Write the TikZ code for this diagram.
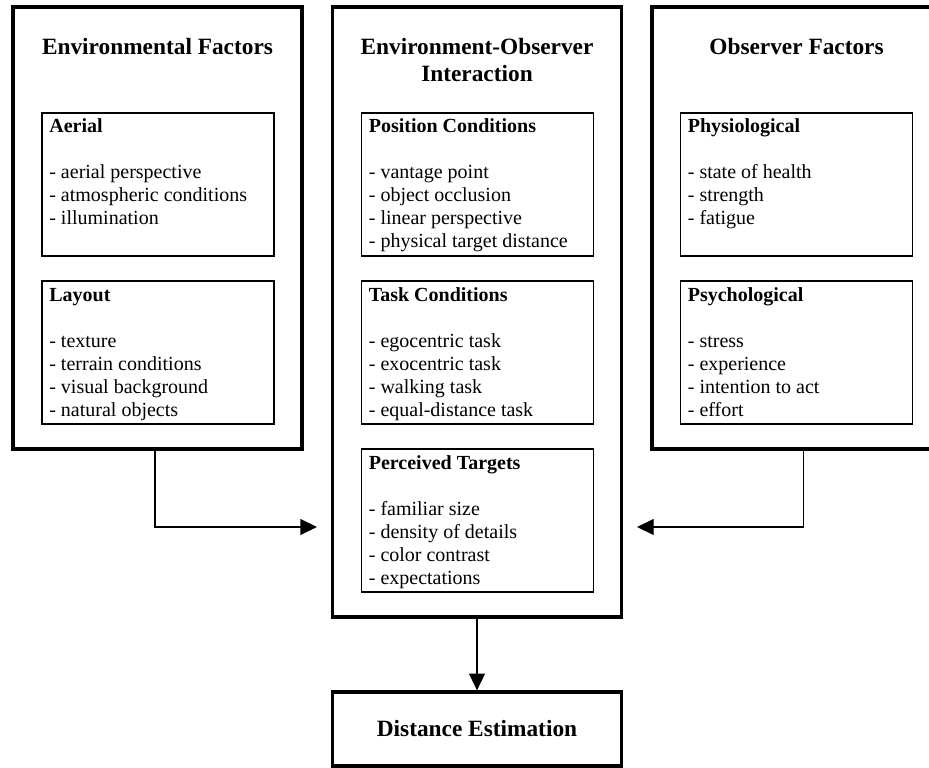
\documentclass[tikz,border=0pt]{standalone}
\usepackage{fontspec}
\setmainfont{Liberation Serif}
\usepackage{tikz}
\usetikzlibrary{
    positioning,
    arrows.meta
}

\begin{document}
\begin{tikzpicture}[x=0.6pt, y=-0.6pt, >={Triangle[length=10pt, width=9.5pt]},
        outerbox/.style={draw, line width=2pt, minimum width=173.4pt, inner sep=0pt},
        innerbox/.style={draw, line width=0.9pt, minimum width=139.2pt, minimum height=85.8pt, inner sep=0pt, outer sep=0pt},
        titletext/.style={font=\fontsize{14pt}{16.1pt}\selectfont\bfseries, align=center, inner sep=0pt, anchor=base},
        itemtext/.style={font=\fontsize{12pt}{13.8pt}\selectfont, align=left, inner sep=0pt, anchor=base west},
        link/.style={->, line width=0.8pt}]
        \clip (0,0) rectangle (929,768);

        % 外枠
        \node[outerbox, minimum height=265.2pt] (envf) at (157.5,228) {};
        \node[outerbox, minimum height=366pt] (inter) at (477,312) {};
        \node[outerbox, minimum height=265.2pt] (obsf) at (796.5,228) {};
        \node[outerbox, minimum height=44.4pt, font=\fontsize{14pt}{16.1pt}\selectfont\bfseries] (dist) at (477,729) {Distance Estimation};

        % 見出し (base = 最後の行)
        \node[titletext] (envt) at ([yshift=-29.4pt]envf.north) {Environmental Factors};
        \node[titletext] (intert) at ([yshift=-45.6pt]inter.north) {Environment-Observer\\Interaction};
        \node[titletext] (obst) at ([yshift=-29.4pt]obsf.north) {Observer Factors};

        % 内側の枠
        \node[innerbox] (aerial) at (158,184.5) {};
        \node[innerbox, below=15pt of aerial] (layout) {};
        \node[innerbox] (posc) at (477.5,184.5) {};
        \node[innerbox, below=15pt of posc] (taskc) {};
        \node[innerbox, below=15pt of taskc] (perc) {};
        \node[innerbox] (physio) at (796.5,184.5) {};
        \node[innerbox, below=15pt of physio] (psycho) {};

        % 項目 (3項目: -67.2pt, 4項目: -81pt)
        \node[itemtext] (aerialt) at ([xshift=4.2pt, yshift=-67.2pt]aerial.north west)
            {\textbf{Aerial}\\[13.8pt]- aerial perspective\\ - atmospheric conditions\\ - illumination};
        \node[itemtext] (layoutt) at ([xshift=4.2pt, yshift=-81pt]layout.north west)
            {\textbf{Layout}\\[13.8pt]- texture\\ - terrain conditions\\ - visual background\\ - natural objects};
        \node[itemtext] (posct) at ([xshift=4.2pt, yshift=-81pt]posc.north west)
            {\textbf{Position Conditions}\\[13.8pt]- vantage point\\ - object occlusion\\ - linear perspective\\ - physical target distance};
        \node[itemtext] (taskct) at ([xshift=4.2pt, yshift=-81pt]taskc.north west)
            {\textbf{Task Conditions}\\[13.8pt]- egocentric task\\ - exocentric task\\ - walking task\\ - equal-distance task};
        \node[itemtext] (perct) at ([xshift=4.2pt, yshift=-81pt]perc.north west)
            {\textbf{Perceived Targets}\\[13.8pt]- familiar size\\ - density of details\\ - color contrast\\ - expectations};
        \node[itemtext] (physiot) at ([xshift=4.2pt, yshift=-67.2pt]physio.north west)
            {\textbf{Physiological}\\[13.8pt]- state of health\\ - strength\\ - fatigue};
        \node[itemtext] (psychot) at ([xshift=4.2pt, yshift=-81pt]psycho.north west)
            {\textbf{Psychological}\\[13.8pt]- stress\\ - experience\\ - intention to act\\ - effort};

        % 矢印
        \coordinate (inL) at (317,527);
        \coordinate (inR) at (637,527);
        \draw[link] ([xshift=-1.5pt]envf.south) |- (inL);
        \draw[link] ([xshift=4pt]obsf.south) |- (inR);
        \draw[link] (inter.south) -- (dist.north);
    \end{tikzpicture}
\end{document}
